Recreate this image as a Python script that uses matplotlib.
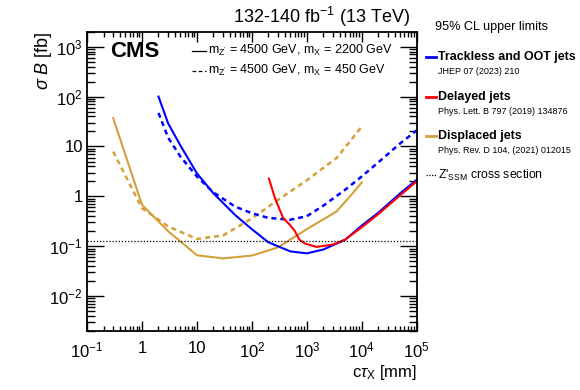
import math
import matplotlib
matplotlib.use("Agg")
import matplotlib.pyplot as plt
from matplotlib.lines import Line2D
from matplotlib.ticker import FixedLocator, FuncFormatter, LogLocator, NullFormatter

plt.rcParams['font.family'] = ['Liberation Sans', 'DejaVu Sans']
plt.rcParams['mathtext.fontset'] = 'custom'
plt.rcParams['mathtext.rm'] = 'Liberation Sans'
plt.rcParams['mathtext.it'] = 'Liberation Sans:italic'
plt.rcParams['mathtext.bf'] = 'Liberation Sans:bold'

# Trackless and OOT jets (blue)
trk_x = [2, 3, 5, 10, 20, 50, 100, 200, 500, 1000, 2000, 5000, 10000, 20000, 50000, 100000]
trk_solid = [100, 29, 10.5, 2.9, 1.15, 0.42, 0.22, 0.12, 0.079, 0.072, 0.086, 0.135, 0.26, 0.47, 1.15, 2.15]
trk_dash = [47, 15, 6.3, 2.5, 1.2, 0.62, 0.46, 0.37, 0.34, 0.40, 0.65, 1.36, 2.5, 4.8, 11.5, 21]

# Delayed jets (red)
del_x = [205, 263, 370, 490, 610, 730, 930, 1500, 3000, 5000, 10000, 20000, 50000, 100000]
del_y = [2.26, 0.93, 0.37, 0.27, 0.2, 0.136, 0.113, 0.097, 0.108, 0.136, 0.24, 0.44, 1.05, 2.0]

# Displaced jets (gold)
dis_x_solid = [0.3, 1, 3, 10, 30, 100, 300, 1000, 3500, 6500, 10000]
dis_solid = [37, 0.68, 0.2, 0.066, 0.057, 0.065, 0.095, 0.22, 0.5, 1.08, 1.9]
dis_x_dash = [0.3, 1, 3, 10, 30, 100, 300, 1000, 3500, 10000]
dis_dash = [7.9, 0.58, 0.25, 0.14, 0.165, 0.36, 0.85, 2.1, 5.9, 25]

zssm = 0.13

blue = '#0000ff'
red = '#ff0000'
gold = '#d4a03a'

fig = plt.figure(figsize=(5.8, 3.9), dpi=100)
ax = fig.add_axes([0.15, 0.1513, 0.5684, 0.7674])

ax.plot(dis_x_solid, dis_solid, color=gold, lw=1.5)
ax.plot(dis_x_dash, dis_dash, color=gold, lw=1.8, ls=(0, (2, 1.6)))
ax.plot(trk_x, trk_solid, color=blue, lw=1.5)
ax.plot(trk_x, trk_dash, color=blue, lw=1.8, ls=(0, (2, 1.6)))
ax.plot(del_x, del_y, color=red, lw=1.5)
ax.axhline(zssm, color='black', lw=0.9, ls=(0, (1, 1.5)))

ax.set_xscale('log')
ax.set_yscale('log')
ax.set_xlim(0.1, 1e5)
ax.set_ylim(0.002, 2000)

def xfmt(v, pos):
    e = int(round(math.log10(v)))
    if e == 0:
        return '1'
    if e == 1:
        return '10'
    return r'$10^{%d}$' % e

ax.xaxis.set_major_locator(FixedLocator([1e-1, 1, 10, 1e2, 1e3, 1e4, 1e5]))
ax.yaxis.set_major_locator(FixedLocator([1e-2, 1e-1, 1, 10, 1e2, 1e3]))
ax.xaxis.set_major_formatter(FuncFormatter(xfmt))
ax.yaxis.set_major_formatter(FuncFormatter(xfmt))
ax.xaxis.set_minor_locator(LogLocator(base=10, subs=range(2, 10), numticks=20))
ax.yaxis.set_minor_locator(LogLocator(base=10, subs=range(2, 10), numticks=20))
ax.xaxis.set_minor_formatter(NullFormatter())
ax.yaxis.set_minor_formatter(NullFormatter())

ax.tick_params(which='both', direction='in', top=True, right=True, labelsize=12, width=1)
ax.tick_params(axis='x', which='major', length=7, pad=7)
ax.tick_params(axis='x', which='minor', length=3.5)
ax.tick_params(axis='y', which='major', length=12, pad=3)
ax.tick_params(axis='y', which='minor', length=6)
for s in ax.spines.values():
    s.set_linewidth(1.3)

ax.set_xlabel(r'c$\tau_{\mathrm{X}}$ [mm]', fontsize=12, loc='right', labelpad=2)
ax.set_ylabel(r'$\sigma$ $B$ [fb]', fontsize=13, loc='top', labelpad=-3)

# Inside text
ax.text(0.07, 0.935, 'CMS', transform=ax.transAxes, fontsize=16, fontweight='bold', va='center', ha='left')
ax.add_line(Line2D([0.318, 0.362], [0.937, 0.937], transform=ax.transAxes, color='black', lw=0.9))
ax.add_line(Line2D([0.318, 0.362], [0.87, 0.87], transform=ax.transAxes, color='black', lw=0.9, ls=(0, (3, 2))))
ax.text(0.367, 0.937, r"m$_{\mathrm{Z'}}$ = 4500 GeV, m$_{\mathrm{X}}$ = 2200 GeV", transform=ax.transAxes,
        fontsize=9, va='center', ha='left')
ax.text(0.367, 0.87, r"m$_{\mathrm{Z'}}$ = 4500 GeV, m$_{\mathrm{X}}$ = 450 GeV", transform=ax.transAxes,
        fontsize=9, va='center', ha='left')

# Top title
fig.text(0.7075, 0.956, r'132-140 fb$^{-1}$ (13 TeV)', fontsize=13, ha='right', va='center')

# Right legend
fig.text(0.75, 0.932, '95% CL upper limits', fontsize=9.1, ha='left', va='center')
entries = [
    (blue, 'Trackless and OOT jets', 'JHEP 07 (2023) 210', 0.855, 0.816),
    (red, 'Delayed jets', 'Phys. Lett. B 797 (2019) 134876', 0.752, 0.714),
    (gold, 'Displaced jets', 'Phys. Rev. D 104, (2021) 012015', 0.651, 0.615),
]
for col, name, ref, yy, yr in entries:
    fig.add_artist(Line2D([0.734, 0.751], [yy, yy], transform=fig.transFigure, color=col, lw=2))
    fig.text(0.755, yy, name, fontsize=8.9, fontweight='bold', ha='left', va='center')
    fig.text(0.755, yr, ref, fontsize=6.5, ha='left', va='center')
fig.add_artist(Line2D([0.734, 0.751], [0.551, 0.551], transform=fig.transFigure, color='black', lw=0.9, ls=(0, (1, 1.2))))
fig.text(0.755, 0.551, r"Z'$_{\mathrm{SSM}}$ cross section", fontsize=8.8, ha='left', va='center')

fig.savefig('out.png', dpi=100)
